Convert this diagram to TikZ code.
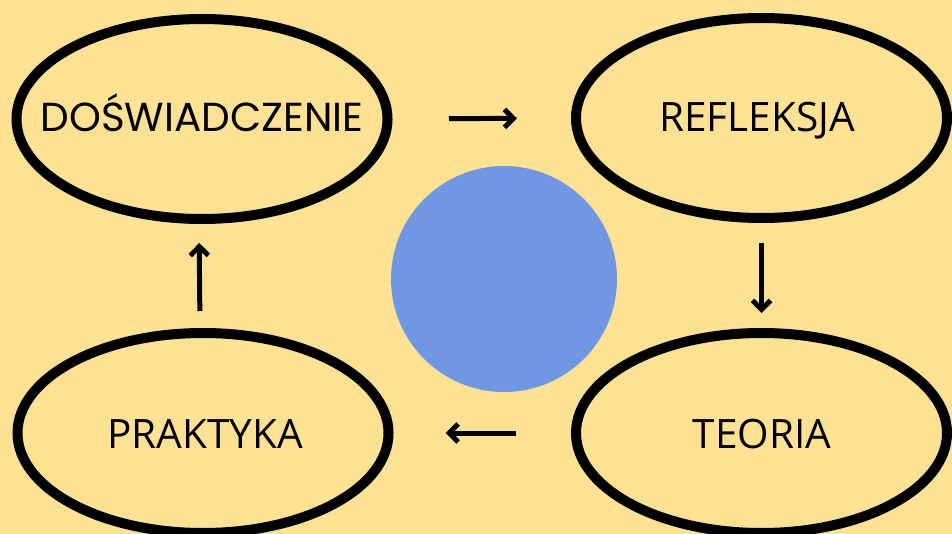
\documentclass[tikz,border=0pt]{standalone}
\usepackage{fontspec}
\setmainfont{Open Sans}
\newfontfamily\geofont{Poppins}
\usetikzlibrary{shapes.geometric,arrows.meta}
\definecolor{bgyellow}{HTML}{FEE293}
\definecolor{circblue}{HTML}{6F97E4}
\begin{document}
\begin{tikzpicture}[x=1pt,y=-1pt,
  stage/.style={ellipse, draw=black, fill=bgyellow, line width=10pt,
    minimum width=371pt, minimum height=200pt, inner sep=0pt},
  lbl/.style={font=\fontsize{40.5}{40.5}\selectfont, anchor=base, inner sep=0pt},
  arr/.style={line width=5pt, -{Straight Barb[length=9pt,width=18pt]}}]
\fill[bgyellow] (0,0) rectangle (952,534);
\useasboundingbox (0,0) rectangle (952,534);
\node[stage] (d) at (202,119) {};
\node[stage] (r) at (761.5,118) {};
\node[stage] (t) at (761.5,433) {};
\node[stage] (p) at (203,433) {};
\node[lbl, font=\geofont\fontsize{40.5}{40.5}\selectfont] (dl) at (202,131.5) {DOŚWIADCZENIE};
\node[lbl] (rl) at (757,132) {REFLEKSJA};
\node[lbl] (tl) at (762,448) {TEORIA};
\node[lbl] (pl) at (205,448) {PRAKTYKA};
\node[circle, fill=circblue, minimum size=226pt, inner sep=0pt] (c) at (504,279) {};
\draw[arr, shorten <=56.5pt, shorten >=54pt] (d) -- (r);
\draw[arr, shorten <=20pt, shorten >=15pt] (r) -- (t);
\draw[arr, shorten <=55pt, shorten >=52pt] (t) -- (p);
\draw[arr, shorten <=17pt, shorten >=19pt] ([xshift=-3pt]p.north) -- ([xshift=-3pt]d.south);
\end{tikzpicture}
\end{document}
